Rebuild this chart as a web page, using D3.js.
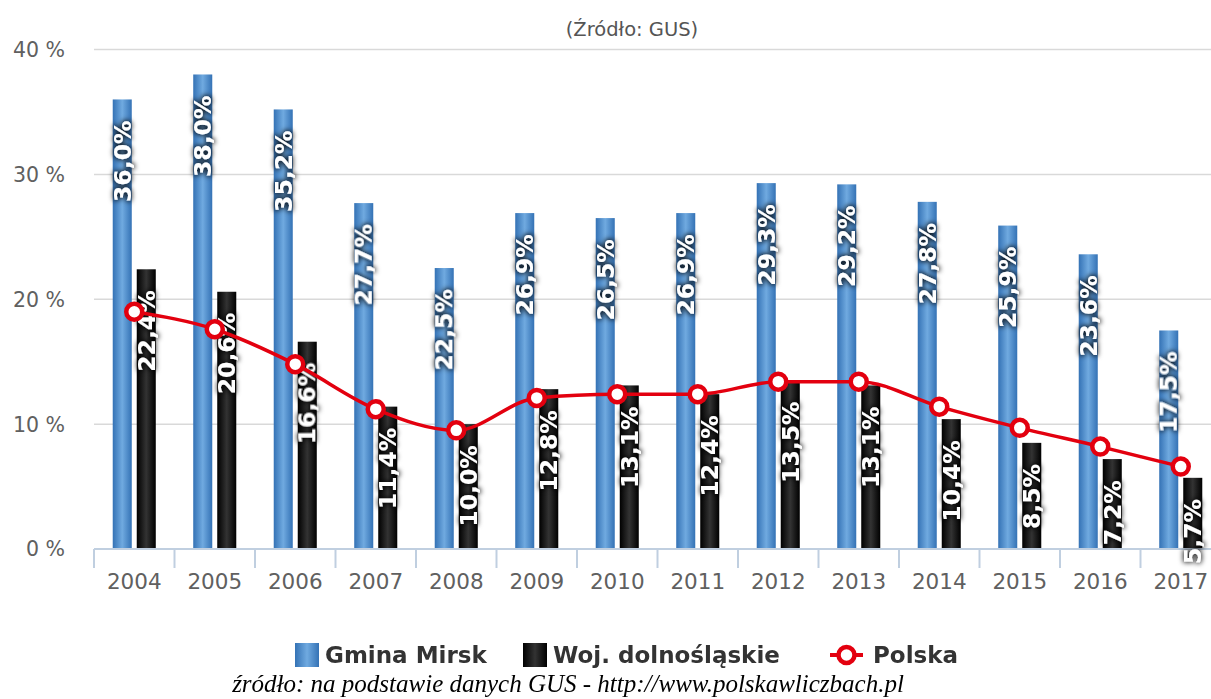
<!DOCTYPE html>
<html>
<head>
<meta charset="utf-8">
<script src="https://cdn.jsdelivr.net/npm/d3@7"></script>
<style>
  body { margin: 0; background: #fff; }
  svg { display: block; }
</style>
</head>
<body>
<div id="chart"></div>
<script>
/* Dane */
var years = ["2004","2005","2006","2007","2008","2009","2010","2011","2012","2013","2014","2015","2016","2017"];
var mirsk = [36.0, 38.0, 35.2, 27.7, 22.5, 26.9, 26.5, 26.9, 29.3, 29.2, 27.8, 25.9, 23.6, 17.5];
var dolnoslaskie = [22.4, 20.6, 16.6, 11.4, 10.0, 12.8, 13.1, 12.4, 13.5, 13.1, 10.4, 8.5, 7.2, 5.7];
var polska = [19.0, 17.6, 14.8, 11.2, 9.5, 12.1, 12.4, 12.4, 13.4, 13.4, 11.4, 9.7, 8.2, 6.6];
var yTicks = [0, 10, 20, 30, 40];
var seriesNames = ["Gmina Mirsk", "Woj. dolnośląskie", "Polska"];

var width = 1211, height = 699;
var margin = {left: 94, top: 49.5, bottom: 549};

var svg = d3.select("#chart").append("svg").attr("width", width).attr("height", height);
var defs = svg.append("defs");

/* Gradienty slupkow */
function hGrad(id, edge, mid) {
  var g = defs.append("linearGradient").attr("id", id).attr("x1", 0).attr("x2", 1).attr("y1", 0).attr("y2", 0);
  g.append("stop").attr("offset", "0%").attr("stop-color", edge);
  g.append("stop").attr("offset", "50%").attr("stop-color", mid);
  g.append("stop").attr("offset", "100%").attr("stop-color", edge);
}
hGrad("gBlue", "#3472b5", "#70aae0");
hGrad("gBlack", "#000000", "#333333");

var f = defs.append("filter").attr("id", "halo").attr("x", "-30%").attr("y", "-30%").attr("width", "160%").attr("height", "160%");
f.append("feMorphology").attr("in", "SourceAlpha").attr("operator", "dilate").attr("radius", 1).attr("result", "d");
f.append("feGaussianBlur").attr("in", "d").attr("stdDeviation", 2.5).attr("result", "b");
f.append("feFlood").attr("flood-color", "#000").attr("flood-opacity", 0.8);
f.append("feComposite").attr("in2", "b").attr("operator", "in").attr("result", "s");
var fm = f.append("feMerge");
fm.append("feMergeNode").attr("in", "s");
fm.append("feMergeNode").attr("in", "SourceGraphic");

/* Skale */
var x = d3.scaleBand().domain(years).range([margin.left, margin.left + 80.5 * years.length]).padding(0);
var xs = d3.scaleBand().domain(["m", "w"]).range([0, x.bandwidth()]).paddingInner(0.208).paddingOuter(0.78);
var y = d3.scaleLinear().domain([0, 40]).range([margin.bottom, margin.top]);

/* Tytul */
svg.append("text").attr("x", 632).attr("y", 36).attr("text-anchor", "middle")
  .style("font-family", "DejaVu Sans").style("font-size", "19.5px").style("fill", "#555")
  .text("(Źródło: GUS)");

/* Siatka i os Y */
var grid = svg.append("g");
grid.selectAll("line").data(yTicks.slice(1)).enter().append("line")
  .attr("x1", margin.left).attr("x2", width)
  .attr("y1", function(d) { return y(d); }).attr("y2", function(d) { return y(d); })
  .attr("stroke", "#d9d9d9").attr("stroke-width", 1.5);
svg.append("g").selectAll("text").data(yTicks).enter().append("text")
  .attr("x", 65).attr("y", function(d) { return y(d); }).attr("dy", "0.36em").attr("text-anchor", "end")
  .style("font-family", "DejaVu Sans").style("font-size", "20.5px").style("fill", "#606060")
  .text(function(d) { return d + " %"; });

/* Slupki */
var bars = svg.append("g");
bars.selectAll(".m").data(years).enter().append("rect")
  .attr("x", function(d) { return x(d) + xs("m"); }).attr("width", xs.bandwidth())
  .attr("y", function(d, i) { return y(mirsk[i]); })
  .attr("height", function(d, i) { return y(0) - y(mirsk[i]); })
  .attr("fill", "url(#gBlue)");
bars.selectAll(".w").data(years).enter().append("rect")
  .attr("x", function(d) { return x(d) + xs("w"); }).attr("width", xs.bandwidth())
  .attr("y", function(d, i) { return y(dolnoslaskie[i]); })
  .attr("height", function(d, i) { return y(0) - y(dolnoslaskie[i]); })
  .attr("fill", "url(#gBlack)");

/* Os X */
var xAxis = svg.append("g");
xAxis.append("line").attr("x1", margin.left).attr("x2", width).attr("y1", y(0)).attr("y2", y(0))
  .attr("stroke", "#c0cfe0").attr("stroke-width", 2);
xAxis.selectAll(".tick").data(years).enter().append("line")
  .attr("x1", function(d) { return x(d); }).attr("x2", function(d) { return x(d); })
  .attr("y1", y(0)).attr("y2", y(0) + 19).attr("stroke", "#c0cfe0").attr("stroke-width", 2);
xAxis.selectAll("text").data(years).enter().append("text")
  .attr("x", function(d) { return x(d) + x.bandwidth() / 2; }).attr("y", 589).attr("text-anchor", "middle")
  .style("font-family", "DejaVu Sans").style("font-size", "21.5px").style("fill", "#606060")
  .text(function(d) { return d; });

/* Etykiety danych */
function fmt(v) { return v.toFixed(1).replace(".", ",") + "%"; }
var labels = svg.append("g").style("font-family", "DejaVu Sans").style("font-weight", "bold")
  .style("font-size", "23.5px").style("fill", "#fff").attr("filter", "url(#halo)");
function addLabels(vals, key) {
  labels.selectAll("." + key).data(years).enter().append("text")
    .attr("transform", function(d, i) {
      return "translate(" + (x(d) + xs(key) + xs.bandwidth() / 2) + "," + (y(vals[i]) + 21) + ") rotate(-90)";
    })
    .attr("dy", "0.36em").attr("text-anchor", "end")
    .text(function(d, i) { return fmt(vals[i]); });
}
addLabels(mirsk, "m");
addLabels(dolnoslaskie, "w");

/* Linia Polska */
var red = "#e3000f";
var line = d3.line().x(function(d, i) { return x(years[i]) + x.bandwidth() / 2; }).y(function(d) { return y(d); })
  .curve(d3.curveMonotoneX);
svg.append("path").datum(polska).attr("d", line).attr("fill", "none").attr("stroke", red).attr("stroke-width", 3.5);
svg.append("g").selectAll("circle").data(polska).enter().append("circle")
  .attr("cx", function(d, i) { return x(years[i]) + x.bandwidth() / 2; }).attr("cy", function(d) { return y(d); })
  .attr("r", 8).attr("fill", "#fff").attr("stroke", red).attr("stroke-width", 4.5);

/* Legenda */
var lg = svg.append("g").style("font-family", "DejaVu Sans").style("font-weight", "bold")
  .style("font-size", "23px").style("fill", "#333");
lg.append("rect").attr("x", 295).attr("y", 643).attr("width", 24).attr("height", 24).attr("fill", "url(#gBlue)");
lg.append("text").attr("x", 325).attr("y", 655).attr("dy", "0.36em").text(seriesNames[0]);
lg.append("rect").attr("x", 523).attr("y", 643).attr("width", 24).attr("height", 24).attr("fill", "url(#gBlack)");
lg.append("text").attr("x", 553).attr("y", 655).attr("dy", "0.36em").text(seriesNames[1]);
lg.append("line").attr("x1", 830).attr("x2", 863).attr("y1", 655).attr("y2", 655).attr("stroke", red).attr("stroke-width", 4);
lg.append("circle").attr("cx", 846.5).attr("cy", 655).attr("r", 8).attr("fill", "#fff").attr("stroke", red).attr("stroke-width", 4.5);
lg.append("text").attr("x", 873).attr("y", 655).attr("dy", "0.36em").text(seriesNames[2]);

/* Zrodlo */
svg.append("text").attr("x", 568).attr("y", 692).attr("text-anchor", "middle")
  .style("font-family", "Liberation Serif").style("font-style", "italic").style("font-size", "25px").style("fill", "#000")
  .text("źródło: na podstawie danych GUS - http://www.polskawliczbach.pl");
</script>
</body>
</html>
